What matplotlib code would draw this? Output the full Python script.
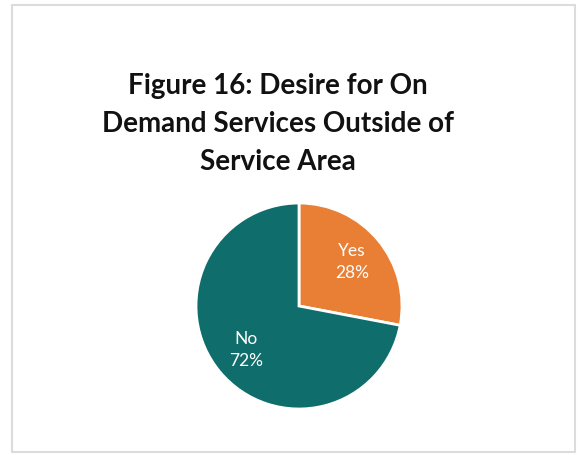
import matplotlib.pyplot as plt
from matplotlib.patches import Rectangle

# survey answers
answers = ["Yes", "No"]
shares = [28, 72]
colors = ["#e97e35", "#0f6e6b"]

W, H = 582, 455
fig = plt.figure(figsize=(W / 100, H / 100), dpi=100)
fig.patch.set_facecolor("white")

# thin grey frame round the chart
fig.patches.append(Rectangle((12 / W, 3 / H), 563 / W, 447 / H,
                             transform=fig.transFigure, fill=False,
                             edgecolor="#dcdcdc", linewidth=1.5))

fig.text(278 / W, (H - 124) / H,
         "Figure 16: Desire for On\nDemand Services Outside of\nService Area",
         ha="center", va="center", multialignment="center",
         fontsize=20, fontweight="bold", family="Lato", linespacing=1.55,
         color="#111111")

# pie, 103 px radius round (299, 306)
r = 103
ax = fig.add_axes([(299 - r) / W, (H - 306 - r) / H, 2 * r / W, 2 * r / H])
labels = [f"{a}\n{s}%" for a, s in zip(answers, shares)]
ax.pie(shares, labels=labels, colors=colors, startangle=90, counterclock=False,
       labeldistance=0.67,
       wedgeprops=dict(edgecolor="white", linewidth=2),
       textprops=dict(color="white", fontsize=12.5, family="Lato",
                      ha="center", va="center", linespacing=1.4))
ax.set_xlim(-1, 1)
ax.set_ylim(-1, 1)
ax.set_aspect("equal")

fig.savefig("out.png", dpi=100)
